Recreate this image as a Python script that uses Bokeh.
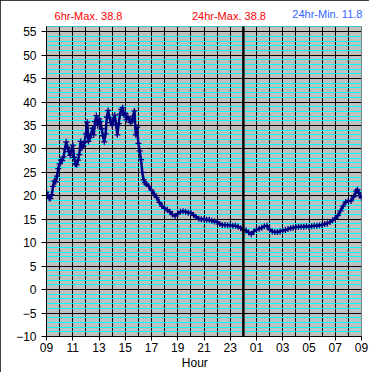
from bokeh.plotting import figure
from bokeh.models import (SingleIntervalTicker, FixedTicker, Span, Arrow,
                          LinearAxis, Range1d)
from bokeh.embed import file_html
from bokeh.resources import INLINE

# hours since 09:00
hours = [
    0.0, 0.1, 0.2, 0.3, 0.4, 0.5, 0.6, 0.7, 0.8, 0.9,
    1.0, 1.1, 1.2, 1.3, 1.4, 1.5, 1.6, 1.7, 1.8, 1.9,
    2.0, 2.1, 2.2, 2.3, 2.4, 2.5, 2.6, 2.7, 2.8, 2.9,
    3.0, 3.1, 3.2, 3.3, 3.4, 3.5, 3.6, 3.7, 3.8, 3.9,
    4.0, 4.1, 4.2, 4.3, 4.4, 4.5, 4.6, 4.7, 4.8, 4.9,
    5.0, 5.1, 5.2, 5.3, 5.4, 5.5, 5.6, 5.7, 5.8, 5.9,
    6.0, 6.1, 6.2, 6.3, 6.4, 6.5, 6.6, 6.7, 6.8, 6.9,
    7.0, 7.1, 7.2, 7.3, 7.4, 7.5,
    7.6, 7.8, 8.0, 8.2, 8.4, 8.6, 8.8, 9.0, 9.2, 9.4,
    9.6, 9.8, 10.0, 10.2, 10.4, 10.6, 10.8, 11.0, 11.2, 11.4,
    11.6, 11.8, 12.0, 12.2, 12.4, 12.6, 12.8, 13.0, 13.2, 13.4,
    13.6, 13.8, 14.0, 14.2, 14.4, 14.6, 14.8, 15.0, 15.2, 15.4,
    15.6, 15.8, 16.0, 16.2, 16.4, 16.6, 16.8, 17.0, 17.2, 17.4,
    17.6, 17.8, 18.0, 18.2, 18.4, 18.6, 18.8, 19.0, 19.2, 19.4,
    19.6, 19.8, 20.0, 20.2, 20.4, 20.6, 20.8, 21.0, 21.2, 21.4,
    21.6, 21.8, 22.0, 22.2, 22.4, 22.6, 22.8, 23.0, 23.2, 23.4,
    23.6, 23.7, 23.8, 23.9, 24.0,
]
temps = [
    20.8, 20.0, 19.5, 19.4, 20.2, 22.0, 23.2, 23.0, 24.2, 25.8,
    26.8, 27.6, 27.5, 28.3, 30.0, 31.5, 30.4, 29.4, 28.6, 29.6,
    30.8, 28.2, 26.8, 26.6, 27.6, 28.8, 31.6, 30.2, 30.6, 31.4,
    33.2, 35.7, 31.6, 32.4, 33.2, 34.4, 33.0, 35.8, 37.1, 35.0,
    36.4, 35.8, 34.3, 32.8, 31.5, 33.2, 36.8, 38.2, 36.6, 35.6,
    35.0, 36.2, 37.2, 35.2, 33.0, 35.4, 37.4, 38.4, 38.8, 37.2,
    37.6, 36.2, 36.8, 36.4, 35.6, 35.9, 37.0, 38.1, 33.0, 34.6,
    31.2, 29.6, 27.7, 25.0, 23.4, 22.8,
    22.5, 22.0, 21.2, 20.4, 19.6, 18.6, 17.8, 17.3, 17.0, 16.6,
    16.0, 15.7, 16.2, 16.6, 16.7, 16.6, 16.4, 16.4, 15.9, 15.5,
    15.1, 15.0, 15.0, 14.9, 14.9, 14.7, 14.5, 14.4, 14.0, 13.8,
    13.8, 13.7, 13.7, 13.6, 13.6, 13.4, 13.1, 12.8, 12.6, 12.2,
    11.8, 12.4, 12.8, 13.0, 13.2, 13.5, 13.6, 12.8, 12.4, 12.3,
    12.3, 12.4, 12.6, 12.7, 12.9, 13.1, 13.2, 13.3, 13.4, 13.4,
    13.4, 13.5, 13.4, 13.5, 13.6, 13.6, 13.7, 13.8, 14.0, 14.1,
    14.4, 14.8, 15.2, 15.8, 16.8, 17.8, 18.7, 18.9, 18.9, 19.8,
    21.0, 21.3, 20.6, 20.0, 19.6,
]

tick_pos = [0, 2, 4, 6, 8, 10, 12, 14, 16, 18, 20, 22, 24]
tick_labels = ["09", "11", "13", "15", "17", "19", "21", "23",
               "01", "03", "05", "07", "09"]

# header statistics and axis title (positions in tenths of an hour)
red_stats_pos = [32, 139]
red_stats_text = ["6hr-Max. 38.8", "24hr-Max. 38.8"]
blue_stats_pos = [214]
blue_stats_text = ["24hr-Min. 11.8"]
x_title_pos = [113]
x_title_text = ["Hour"]

FONT = "Liberation Sans"

p = figure(width=369, height=372, x_range=(0, 24), y_range=(-10, 56.1),
           output_backend="svg", toolbar_location=None, title=None,
           min_border_left=46, min_border_right=8, min_border_top=26,
           min_border_bottom=34)

p.background_fill_color = "#C0C0C0"
p.border_fill_color = "white"
p.outline_line_color = "#808080"
p.outline_line_width = 1
p.styles = {"outline": "1px solid black", "outline-offset": "-1px"}

# grids
p.xgrid.ticker = SingleIntervalTicker(interval=1, num_minor_ticks=0)
p.xgrid.grid_line_color = "black"
p.ygrid.ticker = SingleIntervalTicker(interval=5, num_minor_ticks=5)
p.ygrid.grid_line_color = "black"
p.ygrid.minor_grid_line_color = "#00FFFF"

# axes
p.xaxis.ticker = FixedTicker(ticks=tick_pos)
p.xaxis.major_label_overrides = {t: l for t, l in zip(tick_pos, tick_labels)}
p.yaxis.ticker = SingleIntervalTicker(interval=5, num_minor_ticks=0)
for ax in (p.xaxis[0], p.yaxis[0]):
    ax.axis_line_color = "black"
    ax.major_tick_line_color = "black"
    ax.minor_tick_line_color = None
    ax.major_tick_out = 5
    ax.major_tick_in = 0
    ax.major_label_text_font = FONT
    ax.major_label_text_font_size = "12px"
    ax.major_label_text_color = "black"
p.yaxis.major_label_standoff = 5
p.xaxis.major_tick_out = 4
p.xaxis.major_label_standoff = 2

# text-only axes: header statistics above, "Hour" below
p.extra_x_ranges = {"stats": Range1d(0, 240)}


def text_axis(pos, texts, color, standoff, size):
    ax = LinearAxis(x_range_name="stats", ticker=FixedTicker(ticks=pos),
                    major_label_overrides=dict(zip(pos, texts)))
    ax.axis_line_color = None
    ax.major_tick_line_color = None
    ax.minor_tick_line_color = None
    ax.major_tick_out = 0
    ax.major_tick_in = 0
    ax.major_label_standoff = standoff
    ax.major_label_text_font = FONT
    ax.major_label_text_font_size = size
    ax.major_label_text_color = color
    return ax


p.add_layout(text_axis(red_stats_pos, red_stats_text, "#FF0000", 5, "11px"), "above")
p.add_layout(text_axis(blue_stats_pos, blue_stats_text, "#3366FF", -13, "11px"), "above")
p.add_layout(text_axis(x_title_pos, x_title_text, "black", 1, "12px"), "below")

# midnight line
p.add_layout(Span(location=15, dimension="height", line_color="black",
                  line_width=2))
p.add_layout(Arrow(end=None, x_start=15, y_start=-12.1, x_end=15, y_end=56.6,
                   line_color="black", line_width=2))

# data
p.line(hours, temps, line_color="#000080", line_width=2.5)
p.scatter(hours, temps, marker="cross", size=6, line_color="#000080",
          line_width=1.3)

open("out.html", "w").write(file_html(p, INLINE))
